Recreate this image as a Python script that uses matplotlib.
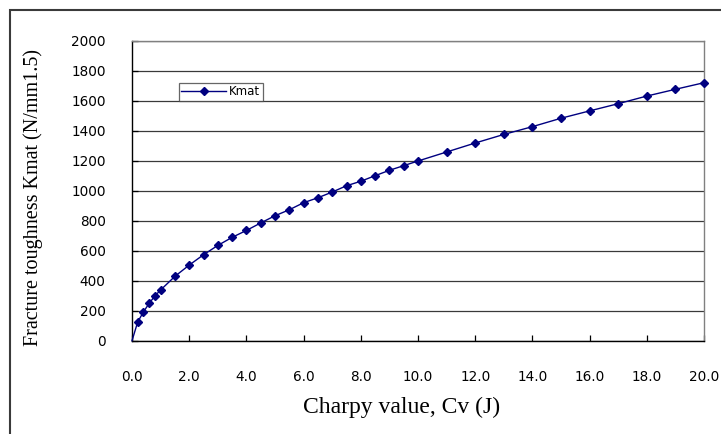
import matplotlib.pyplot as plt
from matplotlib.patches import Rectangle

# Charpy value (J) vs. fracture toughness Kmat (N/mm^1.5)
cv = [0.0, 0.2, 0.4, 0.6, 0.8, 1.0, 1.5, 2.0, 2.5, 3.0, 3.5, 4.0, 4.5, 5.0,
      5.5, 6.0, 6.5, 7.0, 7.5, 8.0, 8.5, 9.0, 9.5, 10.0, 11.0, 12.0, 13.0,
      14.0, 15.0, 16.0, 17.0, 18.0, 19.0, 20.0]
kmat = [0, 125, 192, 249, 298, 338, 429, 504, 573, 635, 689, 735, 785, 833,
        873, 920, 953, 991, 1033, 1063, 1100, 1136, 1167, 1198, 1258, 1318, 1375,
        1427, 1483, 1532, 1580, 1631, 1676, 1720]

x_ticks = [0, 2, 4, 6, 8, 10, 12, 14, 16, 18, 20]
y_ticks = [0, 200, 400, 600, 800, 1000, 1200, 1400, 1600, 1800, 2000]

W, H = 721, 434
fig = plt.figure(figsize=(W / 100, H / 100), dpi=100)
ax = fig.add_axes([132 / W, 1 - 340.7 / H, (704 - 132) / W, 300 / H])

navy = '#000080'
ax.plot(cv, kmat, color=navy, lw=1.0, marker='D', ms=4.2, mfc=navy, mec=navy,
        markevery=slice(1, None), label='Kmat', clip_on=False, zorder=3)

ax.set_xlim(0, 20)
ax.set_ylim(0, 2000)
ax.set_xticks(x_ticks)
ax.set_yticks(y_ticks)
ax.set_xticklabels(['%.1f' % v for v in x_ticks])
ax.set_yticklabels([str(v) for v in y_ticks])

ax.yaxis.grid(True, color='#3a3a3a', lw=0.9)
ax.set_axisbelow(True)

ax.tick_params(axis='both', direction='in', length=4, width=0.9, color='black',
               labelsize=9.8, labelcolor='black')
ax.tick_params(axis='y', pad=19)
ax.tick_params(axis='x', pad=21)

ax.spines['left'].set_color('black')
ax.spines['bottom'].set_color('black')
ax.spines['top'].set_color('#808080')
ax.spines['right'].set_color('#808080')
for s in ax.spines.values():
    s.set_linewidth(1.0)

leg = ax.legend(loc='upper left', bbox_to_anchor=(179 / W, 1 - 83 / H),
                bbox_transform=fig.transFigure, frameon=True, fancybox=False,
                fontsize=8.5, handlelength=3.8, handletextpad=0.25,
                borderpad=0.2, borderaxespad=0)
leg.get_frame().set_edgecolor('#404040')
leg.get_frame().set_linewidth(0.9)

fig.text(402 / W, 1 - 407 / H, 'Charpy value, Cv (J)', ha='center', va='center',
         family='Liberation Serif', fontsize=17)
fig.text(33 / W, 1 - 197 / H, 'Fracture toughness Kmat (N/mm1.5)', ha='center',
         va='center', rotation=90, family='Liberation Serif', fontsize=14.5)

# outer chart frame (right and bottom edges fall outside the image)
fig.add_artist(Rectangle((10 / W, -0.1), 1.2, 1.1 - 10 / H, transform=fig.transFigure,
                         fill=False, ec='#3a3a3a', lw=1.5))

fig.savefig('out.png', dpi=100)
